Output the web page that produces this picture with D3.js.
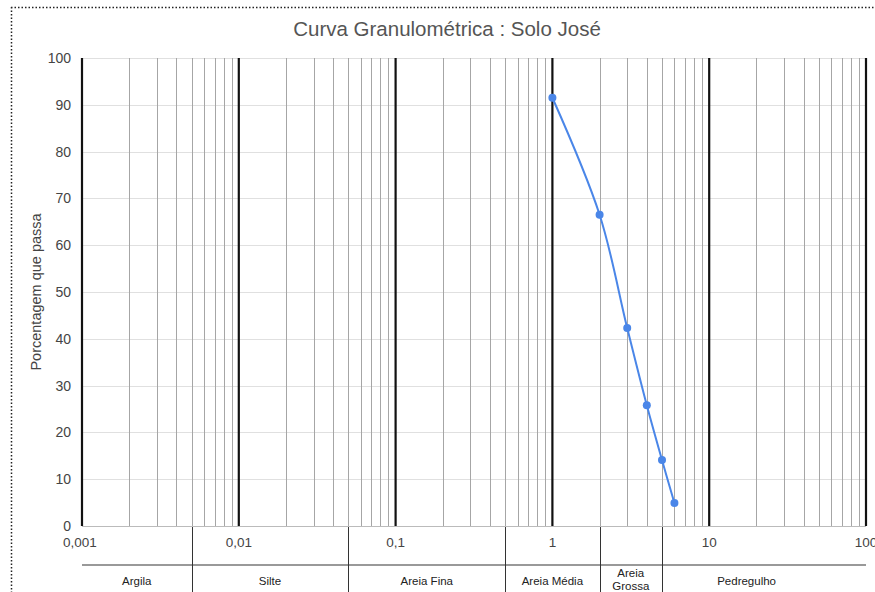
<!DOCTYPE html>
<html>
<head>
<meta charset="utf-8">
<script src="https://cdn.jsdelivr.net/npm/d3@7"></script>
<style>
body { margin: 0; background: #fff; }
svg { display: block; font-family: "Liberation Sans", Arial, sans-serif; }
</style>
</head>
<body>
<div id="chart"></div>
<script>
// curva granulometrica
const diametros = [1, 2, 3, 4, 5, 6];
const passante = [91.5, 66.5, 42.3, 25.8, 14.1, 4.9];

const xTicks = [0.001, 0.01, 0.1, 1, 10, 100];
const xTickLabels = ["0,001", "0,01", "0,1", "1", "10", "100"];
const yTicks = [0, 10, 20, 30, 40, 50, 60, 70, 80, 90, 100];

const faixas = ["Argila", "Silte", "Areia Fina", "Areia Média", "Areia Grossa", "Pedregulho"];
const limites = [0.001, 0.005, 0.05, 0.5, 2, 5, 60];

const width = 875, height = 592;
const plotLeft = 82, plotRight = 866, plotTop = 58, plotBottom = 526;

const svg = d3.select("#chart")
	.append("svg")
	.attr("width", width)
	.attr("height", height);

// borda pontilhada
svg.append("path")
	.attr("d", `M11,7.5 H875 M11.5,7 V592`)
	.attr("stroke", "#222")
	.attr("stroke-width", 1.5)
	.attr("stroke-dasharray", "1.5,2")
	.attr("fill", "none");

const x = d3.scaleLog().domain([0.001, 100]).range([plotLeft, plotRight]);
const y = d3.scaleLinear().domain([0, 100]).range([plotBottom, plotTop]);

// grade horizontal
svg.append("g")
	.selectAll("line")
	.data(yTicks)
	.enter()
	.append("line")
	.attr("x1", plotLeft)
	.attr("x2", plotRight)
	.attr("y1", (d) => Math.round(y(d)) + 0.5)
	.attr("y2", (d) => Math.round(y(d)) + 0.5)
	.attr("stroke", (d) => d == 0 ? "#bbb" : "#e0e0e0")
	.attr("stroke-width", 1);

// grade vertical (menores)
let minors = [];
xTicks.slice(0, -1).forEach((t) => {
	for (let k = 2; k <= 9; k++) minors.push(t * k);
});
svg.append("g")
	.selectAll("line")
	.data(minors)
	.enter()
	.append("line")
	.attr("x1", (d) => Math.round(x(d)) + 0.5)
	.attr("x2", (d) => Math.round(x(d)) + 0.5)
	.attr("y1", plotTop)
	.attr("y2", plotBottom)
	.attr("stroke", "#a6a6a6")
	.attr("stroke-width", 1);

// decadas
svg.append("g")
	.selectAll("line")
	.data(xTicks)
	.enter()
	.append("line")
	.attr("x1", (d) => x(d))
	.attr("x2", (d) => x(d))
	.attr("y1", plotTop)
	.attr("y2", plotBottom)
	.attr("stroke", "#111")
	.attr("stroke-width", 2.2);

// rotulos eixo y
svg.append("g")
	.selectAll("text")
	.data(yTicks)
	.enter()
	.append("text")
	.attr("x", 71)
	.attr("y", (d) => y(d))
	.attr("dy", "0.35em")
	.attr("text-anchor", "end")
	.attr("font-size", 14)
	.attr("fill", "#444")
	.text((d) => d);

// rotulos eixo x
svg.append("g")
	.selectAll("text")
	.data(xTicks)
	.enter()
	.append("text")
	.attr("x", (d) => x(d) - (d == 0.001 ? 2 : 0))
	.attr("y", 547)
	.attr("text-anchor", "middle")
	.attr("font-size", 13.5)
	.attr("fill", "#444")
	.text((d, i) => xTickLabels[i]);

// titulo eixo y
svg.append("text")
	.attr("transform", `translate(41,${(plotTop + plotBottom) / 2}) rotate(-90)`)
	.attr("text-anchor", "middle")
	.attr("font-size", 14.5)
	.attr("fill", "#444")
	.text("Porcentagem que passa");

// titulo
svg.append("text")
	.attr("x", 447)
	.attr("y", 36)
	.attr("text-anchor", "middle")
	.attr("font-size", 20.5)
	.attr("fill", "#555")
	.text("Curva Granulométrica : Solo José");

// curva
const pts = diametros.map((d, i) => [d, passante[i]]);
svg.append("path")
	.datum(pts)
	.attr("d", d3.line()
		.x((d) => x(d[0]))
		.y((d) => y(d[1]))
		.curve(d3.curveCatmullRom.alpha(0.5)))
	.attr("fill", "none")
	.attr("stroke", "#4a86e8")
	.attr("stroke-width", 2);

svg.append("g")
	.selectAll("circle")
	.data(pts)
	.enter()
	.append("circle")
	.attr("cx", (d) => x(d[0]))
	.attr("cy", (d) => y(d[1]))
	.attr("r", 4)
	.attr("fill", "#4a86e8");

// tabela de faixas
svg.append("line")
	.attr("x1", plotLeft)
	.attr("x2", plotRight)
	.attr("y1", 565)
	.attr("y2", 565)
	.attr("stroke", "#777")
	.attr("stroke-width", 1.5);

svg.append("g")
	.selectAll("line")
	.data(limites.slice(1, -1))
	.enter()
	.append("line")
	.attr("x1", (d) => Math.round(x(d)) + 0.5)
	.attr("x2", (d) => Math.round(x(d)) + 0.5)
	.attr("y1", 527)
	.attr("y2", height)
	.attr("stroke", "#333")
	.attr("stroke-width", 1);

const faixaG = svg.append("g")
	.selectAll("text")
	.data(faixas)
	.enter()
	.append("text")
	.attr("x", (d, i) => (x(limites[i]) + x(limites[i + 1])) / 2)
	.attr("y", 585)
	.attr("text-anchor", "middle")
	.attr("font-size", 11.5)
	.attr("fill", "#222");

faixaG.each(function (d) {
	const parts = d == "Areia Grossa" ? ["Areia", "Grossa"] : [d];
	const t = d3.select(this);
	if (parts.length > 1) {
		t.attr("y", 577);
		parts.forEach((p, j) => {
			t.append("tspan")
				.attr("x", t.attr("x"))
				.attr("dy", j == 0 ? 0 : 12.5)
				.text(p);
		});
	} else {
		t.text(d);
	}
});
</script>
</body>
</html>
